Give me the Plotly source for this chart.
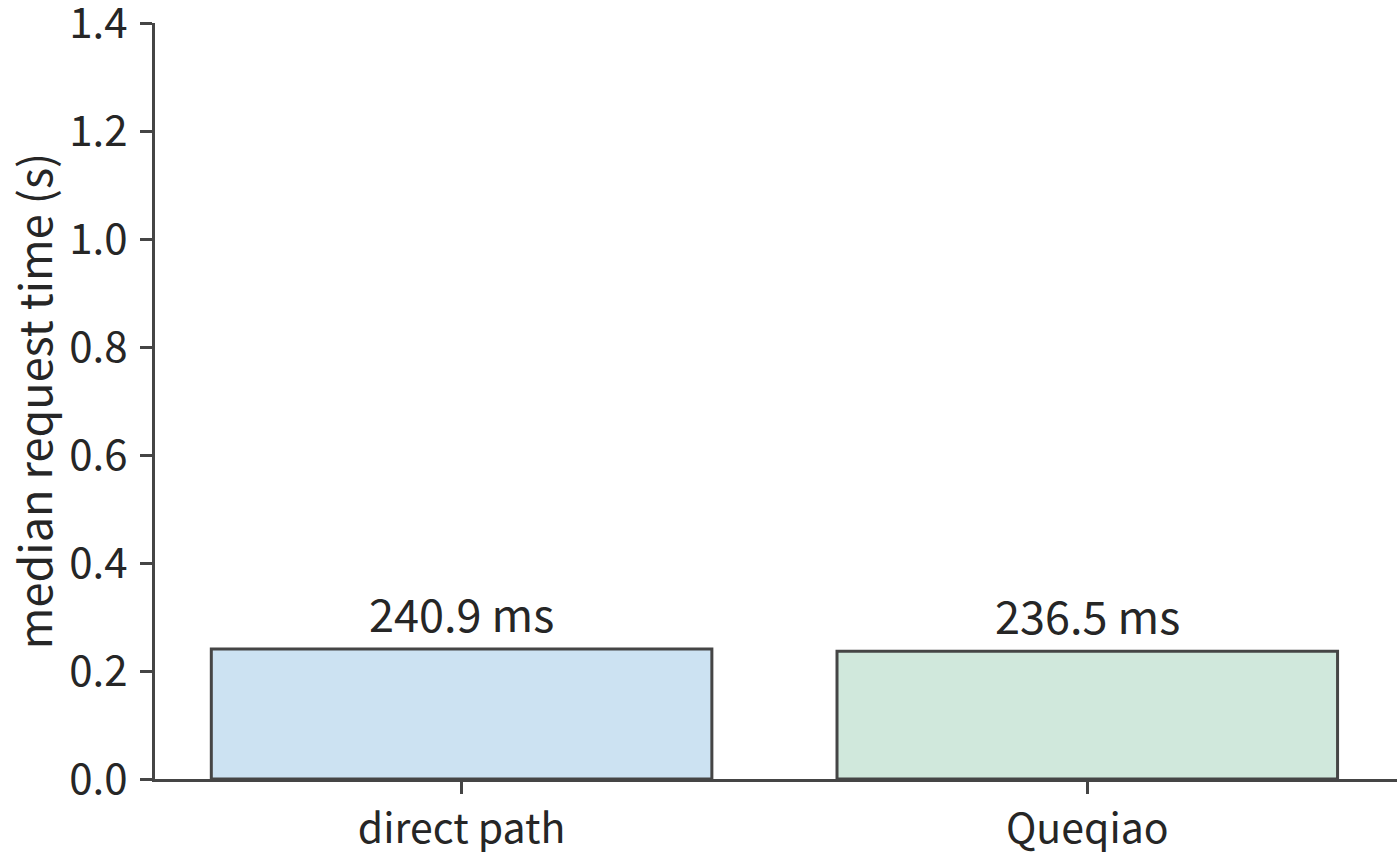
import plotly.graph_objects as go

# median request time per path, in seconds
paths = ["direct path", "Queqiao"]
median_s = [0.2409, 0.2365]
bar_colors = ["#cce2f2", "#d0e8dc"]
y_ticks = [0.0, 0.2, 0.4, 0.6, 0.8, 1.0, 1.2, 1.4]

FONT = "Noto Sans CJK SC"
INK = "#262626"
EDGE = "#454545"

fig = go.Figure()
fig.add_trace(go.Bar(
    x=paths,
    y=median_s,
    width=0.8,
    marker=dict(color=bar_colors, line=dict(color=EDGE, width=3)),
    showlegend=False,
    hoverinfo="skip",
))

# value labels above each bar
for p, v in zip(paths, median_s):
    fig.add_annotation(
        x=p, y=v, text=f"{v * 1000:.1f} ms",
        showarrow=False, yanchor="bottom", yshift=2,
        font=dict(family=FONT, size=45, color=INK),
    )

fig.update_layout(
    width=1400, height=858,
    margin=dict(l=155, r=3, t=23, b=79),
    plot_bgcolor="white", paper_bgcolor="white",
    font=dict(family=FONT, size=40, color=INK),
)
fig.update_xaxes(
    range=[-0.49, 1.495], automargin=False,
    showline=True, linecolor=EDGE, linewidth=3,
    ticks="outside", ticklen=12, tickwidth=3, tickcolor=EDGE,
    showgrid=False, zeroline=False,
    tickfont=dict(size=41, color=INK),
)
fig.update_yaxes(
    range=[0, 1.4], automargin=False, ticklabeloverflow="allow",
    tickvals=y_ticks, ticktext=[f"{t:.1f}" for t in y_ticks],
    showline=True, linecolor=EDGE, linewidth=3,
    ticks="outside", ticklen=12, tickwidth=3, tickcolor=EDGE,
    ticklabelstandoff=4,
    showgrid=False, zeroline=False,
    title=dict(text="median request time (s)", font=dict(size=45, color=INK), standoff=17),
    tickfont=dict(size=42, color=INK),
)

# drop the default page margin so the figure fills the window exactly
fig.write_html("out.html", config={"displayModeBar": False},
               post_script="document.body.style.margin='0';")
